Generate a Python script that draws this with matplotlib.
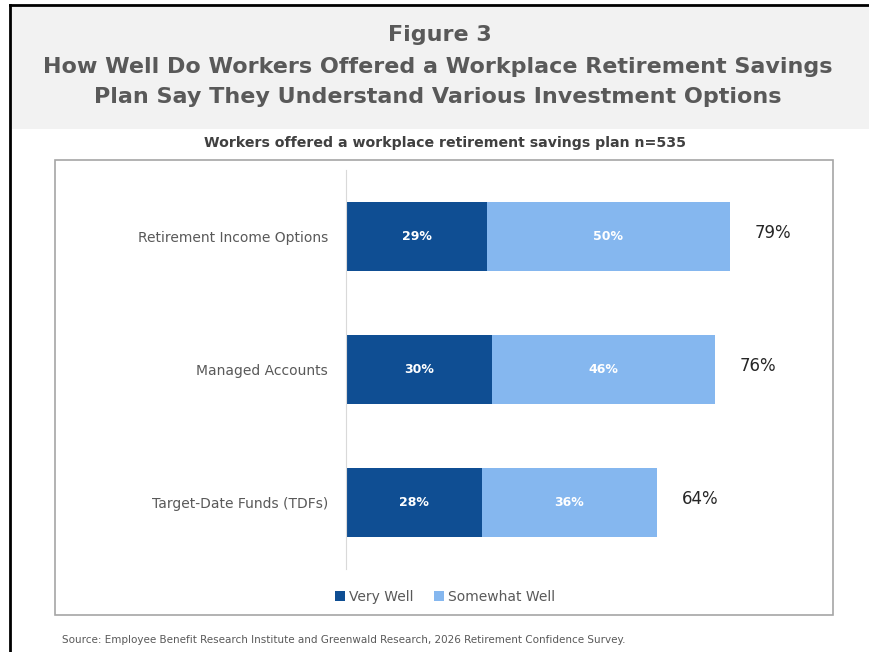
import matplotlib.pyplot as plt
from matplotlib.patches import Rectangle
from matplotlib.lines import Line2D

# survey data
categories = ['Target-Date Funds (TDFs)', 'Managed Accounts', 'Retirement Income Options']
very_well = [28, 30, 29]
somewhat_well = [36, 46, 50]
series_names = ['Very Well', 'Somewhat Well']

dark_blue = '#0F4E93'
light_blue = '#85B7EF'
text_gray = '#595959'

W, H = 869, 652
fig = plt.figure(figsize=(W / 100, H / 100), dpi=100)


def fx(x):
    return x / W


def fy(y):
    return 1 - y / H


# header band and frame lines
fig.patches.append(Rectangle((fx(11), fy(129)), fx(858), 122 / H, transform=fig.transFigure,
                             facecolor='#F2F2F2', edgecolor='none', zorder=0))
fig.lines.append(Line2D([fx(10), fx(869)], [fy(5), fy(5)], transform=fig.transFigure,
                        color='black', lw=2))
fig.lines.append(Line2D([fx(10), fx(10)], [fy(5), fy(652)], transform=fig.transFigure,
                        color='black', lw=2))
fig.patches.append(Rectangle((fx(55), fy(615)), fx(778), 455 / H, transform=fig.transFigure,
                             facecolor='none', edgecolor='#A6A6A6', lw=1.2, zorder=0))

fig.text(fx(440), fy(35), 'Figure 3', ha='center', va='center', fontsize=16,
         fontweight='bold', color=text_gray)
fig.text(fx(438), fy(82), 'How Well Do Workers Offered a Workplace Retirement Savings\n'
         'Plan Say They Understand Various Investment Options', ha='center', va='center',
         fontsize=16, fontweight='bold', color=text_gray, linespacing=1.6)
fig.text(fx(445), fy(143), 'Workers offered a workplace retirement savings plan n=535',
         ha='center', va='center', fontsize=10.2, fontweight='bold', color='#404040')
fig.text(fx(62), fy(640), 'Source: Employee Benefit Research Institute and Greenwald Research, '
         '2026 Retirement Confidence Survey.', ha='left', va='center', fontsize=7.5,
         color=text_gray)

ax = fig.add_axes([fx(346), fy(569), fx(484), 399 / H])
ypos = range(len(categories))
b1 = ax.barh(ypos, very_well, height=0.52, color=dark_blue, label=series_names[0])
b2 = ax.barh(ypos, somewhat_well, left=very_well, height=0.52, color=light_blue,
             label=series_names[1])

for i in ypos:
    v, s = very_well[i], somewhat_well[i]
    ax.text(v / 2, i, f'{v}%', ha='center', va='center', color='white', fontsize=9,
            fontweight='bold')
    ax.text(v + s / 2, i, f'{s}%', ha='center', va='center', color='white', fontsize=9,
            fontweight='bold')
    ax.text(v + s + 8.8, i + 0.03, f'{v + s}%', ha='center', va='center',
            color='#262626', fontsize=12)

ax.set_xlim(0, 99.6)
ax.set_ylim(-0.5, 2.5)
ax.set_yticks(list(ypos))
ax.set_yticklabels(categories, fontsize=10, color=text_gray)
ax.tick_params(axis='y', length=0, pad=13)
ax.set_xticks([])
for side in ['top', 'right', 'bottom']:
    ax.spines[side].set_visible(False)
ax.spines['left'].set_color('#D9D9D9')

fig.legend(handles=[b1, b2], loc='center', bbox_to_anchor=(fx(445), fy(597)), ncol=2,
           frameon=False, fontsize=10, handlelength=0.7, handleheight=0.7,
           handletextpad=0.3, columnspacing=1.5, labelcolor=text_gray)

fig.savefig('out.png', dpi=100)
